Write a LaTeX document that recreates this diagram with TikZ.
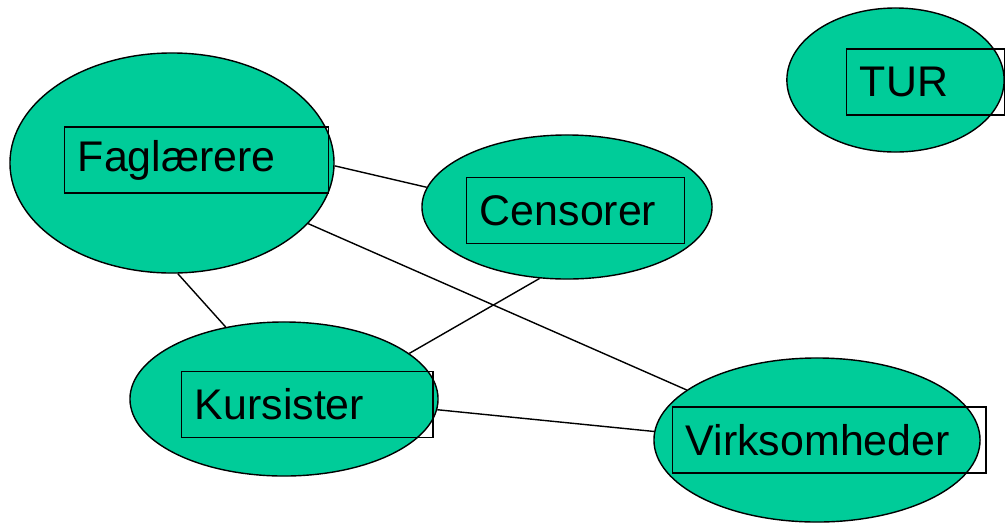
\documentclass[tikz,border=0pt]{standalone}
\usepackage{fontspec}
\setmainfont{Liberation Sans}
\usetikzlibrary{shapes.geometric}
\definecolor{groen}{HTML}{00CC99}

\begin{document}
\begin{tikzpicture}[x=0.025cm, y=-0.025cm,
  every path/.style={line width=1pt},
  blob/.style={ellipse, draw, fill=groen, inner sep=0pt},
  lbl/.style={draw, rectangle, anchor=west, inner xsep=0.33cm, inner ysep=0pt,
    minimum height=1.65cm, text width=#1, align=left, font=\fontsize{30.5}{34}\selectfont}]

\useasboundingbox (0,0) rectangle (1006,522);

% Define the ellipses
\node[blob, minimum width=8.1cm, minimum height=5.5cm] (fag) at (172,163) {};
\node[blob, minimum width=7.25cm, minimum height=3.6cm] (cen) at (567,207) {};
\node[blob, minimum width=5.43cm, minimum height=3.6cm] (tur) at (895.5,80) {};
\node[blob, minimum width=7.7cm, minimum height=3.85cm] (kur) at (284,399) {};
\node[blob, minimum width=8.15cm, minimum height=4.1cm] (vir) at (817,440) {};

% Draw the connections
\draw (fag.359) -- (cen.172);
\draw (fag.336) -- (vir.159);
\draw (fag.273) -- (kur.129);
\draw (cen.249) -- (kur.20);
\draw (kur.356) -- (vir.177);

% Add the text boxes
\node[lbl=5.94cm] (fagtxt) at (64,160) {Faglærere};
\node[lbl=4.79cm] (centxt) at (466,210.5) {Censorer};
\node[lbl=3.29cm] (turtxt) at (846,82) {TUR};
\node[lbl=5.62cm] (kurtxt) at (181,404.5) {Kursister};
\node[lbl=7.17cm] (virtxt) at (672,440) {Virksomheder};

\end{tikzpicture}
\end{document}
